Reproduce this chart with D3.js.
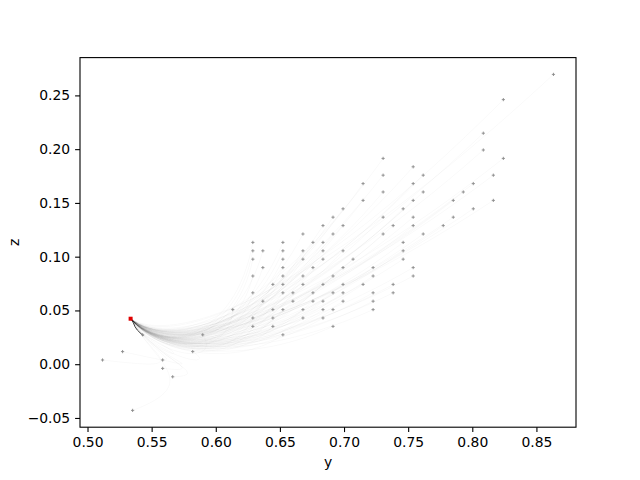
<!DOCTYPE html>
<html>
<head>
<meta charset="utf-8">
<script src="https://cdn.jsdelivr.net/npm/d3@7"></script>
<style>
  html, body { margin: 0; padding: 0; background: #fff; }
  svg { display: block; font-family: "DejaVu Sans", sans-serif; }
</style>
</head>
<body>
<svg id="chart" width="640" height="480"></svg>
<script>
// ---- data ----
const pointY = [
  0.51172, 0.52734, 0.53516, 0.54297, 0.55859, 0.55859, 0.56641, 0.58203, 0.58984, 0.61328,
  0.62891, 0.62891, 0.62891, 0.62891, 0.62891, 0.62891, 0.62891,
  0.63672, 0.63672, 0.63672,
  0.64453, 0.64453, 0.64453, 0.64453,
  0.65234, 0.65234, 0.65234, 0.65234, 0.65234, 0.65234, 0.65234, 0.65234, 0.65234,
  0.66016, 0.66016,
  0.66797, 0.66797, 0.66797, 0.66797, 0.66797, 0.66797, 0.66797,
  0.67578, 0.67578, 0.67578, 0.67578,
  0.68359, 0.68359, 0.68359, 0.68359, 0.68359, 0.68359, 0.68359, 0.68359,
  0.69141, 0.69141, 0.69141, 0.69141, 0.69141, 0.69141,
  0.69922, 0.69922, 0.69922, 0.69922, 0.69922, 0.69922, 0.69922,
  0.70703,
  0.71484, 0.71484, 0.71484,
  0.72266, 0.72266, 0.72266, 0.72266, 0.72266,
  0.73047, 0.73047, 0.73047, 0.73047, 0.73047,
  0.73828, 0.73828, 0.73828,
  0.74609, 0.74609, 0.74609, 0.74609,
  0.75391, 0.75391, 0.75391, 0.75391, 0.75391, 0.75391, 0.75391,
  0.76172, 0.76172, 0.76172,
  0.77734,
  0.78516, 0.78516,
  0.79297,
  0.80078, 0.80078,
  0.80859, 0.80859,
  0.81641, 0.81641,
  0.82422, 0.82422,
  0.86328
];
const pointZ = [
  0.00391, 0.01172, -0.04297, 0.02734, 0.00391, -0.00391, -0.01172, 0.01172, 0.02734, 0.05078,
  0.11328, 0.10547, 0.09766, 0.08203, 0.06641, 0.04297, 0.03516,
  0.10547, 0.08984, 0.05859,
  0.07422, 0.05078, 0.04297, 0.03516,
  0.11328, 0.10547, 0.09766, 0.08984, 0.08203, 0.07422, 0.06641, 0.05078, 0.02734,
  0.06641, 0.05859,
  0.12109, 0.10547, 0.09766, 0.08203, 0.07422, 0.05078, 0.04297,
  0.11328, 0.08984, 0.06641, 0.05859,
  0.12891, 0.11328, 0.10547, 0.09766, 0.07422, 0.05859, 0.05078, 0.04297,
  0.13672, 0.12109, 0.08203, 0.06641, 0.05078, 0.03516,
  0.14453, 0.12891, 0.10547, 0.08984, 0.07422, 0.06641, 0.05859,
  0.09766,
  0.16797, 0.15234, 0.07422,
  0.08984, 0.08203, 0.06641, 0.05859, 0.05078,
  0.19141, 0.17578, 0.16016, 0.13672, 0.12109,
  0.12891, 0.07422, 0.06641,
  0.14453, 0.11328, 0.10547, 0.09766,
  0.18359, 0.16797, 0.15234, 0.13672, 0.12891, 0.08984, 0.08203,
  0.17578, 0.16016, 0.12109,
  0.12891,
  0.15234, 0.13672,
  0.16016,
  0.16797, 0.14453,
  0.21484, 0.19922,
  0.17578, 0.15234,
  0.24609, 0.19141,
  0.26953
];
// valley that the faint trajectories sweep through, and their approach point
const valleyYZ = [0.610, -0.010];
const approachYZ = [0.556, 0.004];
// dark converging path and the red final point
const pathY = [0.5435, 0.5427, 0.5409, 0.5388, 0.5370, 0.5357, 0.5339];
const pathZ = [0.0262, 0.0274, 0.0293, 0.0318, 0.0349, 0.0386, 0.0427];
const bestY = [0.5336];
const bestZ = [0.0423];
const xTicks = [0.50, 0.55, 0.60, 0.65, 0.70, 0.75, 0.80, 0.85];
const zTicks = [-0.05, 0.00, 0.05, 0.10, 0.15, 0.20, 0.25];

// ---- layout ----
const svg = d3.select("#chart");
const L = 80, R = 576, T = 57.6, B = 427.2;

const [yMin, yMax] = d3.extent(pointY);
const [zMin, zMax] = d3.extent(pointZ);
const yPad = (yMax - yMin) * 0.05, zPad = (zMax - zMin) * 0.05;
const x = d3.scaleLinear().domain([yMin - yPad, yMax + yPad]).range([L, R]);
const y = d3.scaleLinear().domain([zMin - zPad, zMax + zPad]).range([B, T]);

svg.append("clipPath").attr("id", "clip")
  .append("rect").attr("x", L).attr("y", T).attr("width", R - L).attr("height", B - T);
const plot = svg.append("g").attr("clip-path", "url(#clip)");

// faint trajectories: each start point sweeps down through the valley to the final point
const gTraj = plot.append("g")
  .attr("fill", "none").attr("stroke", "#000").attr("stroke-opacity", 0.03)
  .attr("stroke-width", 0.8);
pointY.forEach((py, i) => {
  const pz = pointZ[i];
  const c1y = py + 0.75 * (valleyYZ[0] - py), c1z = pz + 0.75 * (valleyYZ[1] - pz);
  const c2y = approachYZ[0] + 0.05 * (py - valleyYZ[0]);
  const c2z = approachYZ[1] + 0.05 * pz;
  const p = d3.path();
  p.moveTo(x(py), y(pz));
  p.bezierCurveTo(x(c1y), y(c1z), x(c2y), y(c2z), x(bestY[0]), y(bestZ[0]));
  gTraj.append("path").attr("d", p.toString());
});

// dark path
plot.append("path")
  .datum(pathY.map((v, i) => [v, pathZ[i]]))
  .attr("fill", "none").attr("stroke", "#111").attr("stroke-width", 1)
  .attr("stroke-opacity", 0.8)
  .attr("d", d3.line().x(d => x(d[0])).y(d => y(d[1])));

// + markers
const gPts = plot.append("g").attr("stroke", "#8a8a8a").attr("stroke-width", 0.9);
pointY.forEach((py, i) => {
  const cx = x(py), cy = y(pointZ[i]), s = 1.6;
  gPts.append("path").attr("d", `M${cx - s},${cy}H${cx + s}M${cx},${cy - s}V${cy + s}`);
});

// red final point
plot.selectAll("rect.best").data(bestY).enter().append("rect")
  .attr("class", "best")
  .attr("x", d => x(d) - 2).attr("y", (d, i) => y(bestZ[i]) - 2)
  .attr("width", 4).attr("height", 4).attr("fill", "#e00000");

// ---- axes ----
const fmt = d3.format(".2f");
const minus = s => s.replace("-", "\u2212");
const xAxis = svg.append("g").attr("transform", `translate(0,${B})`)
  .call(d3.axisBottom(x).tickValues(xTicks).tickFormat(d => minus(fmt(d))).tickSizeOuter(0).tickSize(4.9).tickPadding(4.9));
const yAxis = svg.append("g").attr("transform", `translate(${L},0)`)
  .call(d3.axisLeft(y).tickValues(zTicks).tickFormat(d => minus(fmt(d))).tickSizeOuter(0).tickSize(4.9).tickPadding(4.9));
[xAxis, yAxis].forEach(g => {
  g.select(".domain").remove();
  g.selectAll("line").attr("stroke", "#000").attr("stroke-width", 1.1);
  g.selectAll("text").attr("fill", "#000").style("font-size", "13.9px")
    .style("font-family", "'DejaVu Sans', sans-serif");
});

svg.append("rect").attr("x", L).attr("y", T).attr("width", R - L).attr("height", B - T)
  .attr("fill", "none").attr("stroke", "#000").attr("stroke-width", 1.1);

svg.append("text").attr("x", (L + R) / 2).attr("y", 467)
  .attr("text-anchor", "middle").style("font-size", "13.9px").text("y");
svg.append("text").attr("transform", `translate(19,${(T + B) / 2}) rotate(-90)`)
  .attr("text-anchor", "middle").style("font-size", "13.9px").text("z");
</script>
</body>
</html>
